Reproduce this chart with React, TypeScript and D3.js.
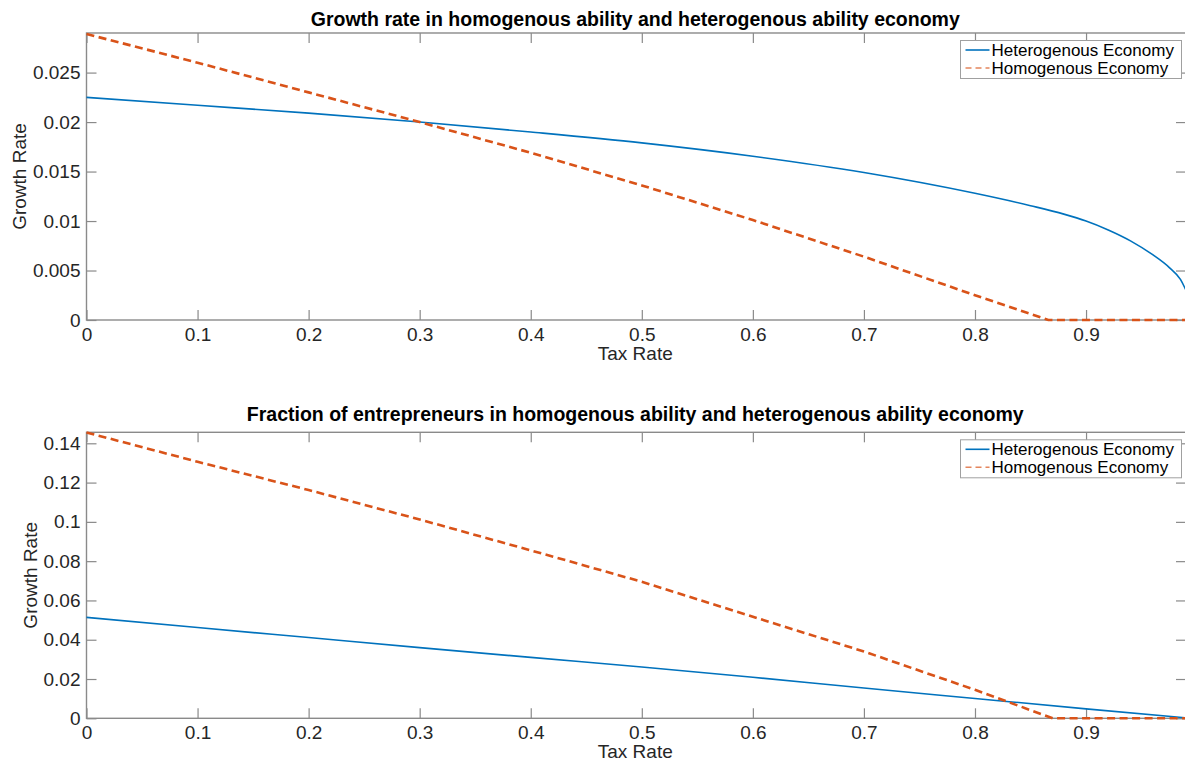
import React, { useRef, useEffect } from 'react';
import * as d3 from 'd3';

// x axis ticks shared by both panels
const taxTicks = [0, 0.1, 0.2, 0.3, 0.4, 0.5, 0.6, 0.7, 0.8, 0.9];

// panel 1: growth rate
const growthTicks = [0, 0.005, 0.01, 0.015, 0.02, 0.025];
const growthHetTax = [0, 0.1, 0.2, 0.3, 0.4, 0.5, 0.6, 0.7, 0.8, 0.85, 0.88, 0.9, 0.92, 0.94, 0.96, 0.975, 0.985, 0.99];
const growthHet = [0.0225, 0.0217, 0.0209, 0.02, 0.019, 0.0179, 0.01655, 0.0149, 0.0128, 0.01155, 0.0107, 0.01, 0.0091, 0.008, 0.0066, 0.0053, 0.0041, 0.003];
const growthHomTax = [0, 0.1, 0.2, 0.3, 0.4, 0.5, 0.6, 0.7, 0.8, 0.866, 0.9, 0.99];
const growthHom = [0.0289, 0.026, 0.023, 0.02, 0.0169, 0.0136, 0.0101, 0.0064, 0.0025, 0, 0, 0];

// panel 2: fraction of entrepreneurs
const fractionTicks = [0, 0.02, 0.04, 0.06, 0.08, 0.1, 0.12, 0.14];
const fracHetTax = [0, 0.1, 0.2, 0.3, 0.4, 0.5, 0.6, 0.7, 0.8, 0.9, 0.99];
const fracHet = [0.0514, 0.0462, 0.0411, 0.036, 0.031, 0.0261, 0.0209, 0.0154, 0.0101, 0.0048, 0.0002];
const fracHomTax = [0, 0.1, 0.2, 0.3, 0.4, 0.5, 0.6, 0.7, 0.8, 0.87, 0.9, 0.99];
const fracHom = [0.1455, 0.1306, 0.1162, 0.1012, 0.0855, 0.0695, 0.0517, 0.034, 0.0145, 0, 0, 0];

const legendLabels = ['Heterogenous Economy', 'Homogenous Economy'];

const BLUE = '#0072BD';
const ORANGE = '#D95319';
const FONT = '"Liberation Sans", Arial, Helvetica, sans-serif';

interface Panel {
  title: string;
  titleY: number;
  top: number;
  bottom: number;
  yMax: number;
  yTicks: number[];
  yLabelX: number;
  hetX: number[];
  het: number[];
  homX: number[];
  hom: number[];
}

const panels: Panel[] = [
  {
    title: 'Growth rate in homogenous ability and heterogenous ability economy',
    titleY: 26, top: 33, bottom: 320, yMax: 0.029, yTicks: growthTicks, yLabelX: 26,
    hetX: growthHetTax, het: growthHet, homX: growthHomTax, hom: growthHom,
  },
  {
    title: 'Fraction of entrepreneurs in homogenous ability and heterogenous ability economy',
    titleY: 421, top: 432.3, bottom: 718.3, yMax: 0.1456, yTicks: fractionTicks, yLabelX: 37,
    hetX: fracHetTax, het: fracHet, homX: fracHomTax, hom: fracHom,
  },
];

const App: React.FC = () => {
  const svgRef = useRef<SVGSVGElement>(null);

  useEffect(() => {
    const svg = d3.select(svgRef.current);
    svg.selectAll('*').remove();

    const left = 86.5;
    const right = 1186;

    panels.forEach(p => {
      const x = d3.scaleLinear().domain([0, 0.99]).range([left, right]);
      const y = d3.scaleLinear().domain([0, p.yMax]).range([p.bottom, p.top]);
      const g = svg.append('g');

      // axes with inward ticks on all four sides
      const styleAxis = (sel: any) => {
        sel.select('.domain').remove();
        sel.selectAll('line').attr('stroke', '#8a8a8a').attr('stroke-width', 1.2);
        sel.selectAll('text')
          .style('font-family', FONT)
          .style('font-size', '19px')
          .attr('fill', '#262626');
      };

      g.append('g')
        .attr('transform', `translate(0,${p.bottom})`)
        .call(d3.axisBottom(x).tickValues(taxTicks).tickSize(-10).tickPadding(7.5).tickFormat(d => String(d)))
        .call(styleAxis);

      g.append('g')
        .attr('transform', `translate(0,${p.top})`)
        .call(d3.axisTop(x).tickValues(taxTicks).tickSize(-10).tickFormat(() => ''))
        .call(styleAxis);

      g.append('g')
        .attr('transform', `translate(${left},0)`)
        .call(d3.axisLeft(y).tickValues(p.yTicks).tickSize(-10).tickPadding(6).tickFormat(d => String(d)))
        .call(styleAxis);

      g.append('g')
        .attr('transform', `translate(${right},0)`)
        .call(d3.axisRight(y).tickValues(p.yTicks).tickSize(-10).tickFormat(() => ''))
        .call(styleAxis);

      // frame
      g.append('rect')
        .attr('x', left)
        .attr('y', p.top)
        .attr('width', right - left)
        .attr('height', p.bottom - p.top)
        .attr('fill', 'none')
        .attr('stroke', '#8a8a8a')
        .attr('stroke-width', 1.4);

      // lines
      const hetLine = d3.line<number>()
        .x((_, i) => x(p.hetX[i]))
        .y(d => y(d))
        .curve(d3.curveMonotoneX);

      const homLine = d3.line<number>()
        .x((_, i) => x(p.homX[i]))
        .y(d => y(d));

      g.append('path')
        .datum(p.het)
        .attr('fill', 'none')
        .attr('stroke', BLUE)
        .attr('stroke-width', 1.6)
        .attr('d', hetLine);

      g.append('path')
        .datum(p.hom)
        .attr('fill', 'none')
        .attr('stroke', ORANGE)
        .attr('stroke-width', 2.6)
        .attr('stroke-dasharray', '8,4.5')
        .attr('d', homLine);

      // title and axis labels
      g.append('text')
        .attr('x', (86.5 + 1184) / 2)
        .attr('y', p.titleY)
        .attr('text-anchor', 'middle')
        .style('font-family', FONT)
        .style('font-size', '19.5px')
        .style('font-weight', 'bold')
        .attr('fill', '#000')
        .text(p.title);

      g.append('text')
        .attr('x', (86.5 + 1184) / 2)
        .attr('y', p.bottom + 40)
        .attr('text-anchor', 'middle')
        .style('font-family', FONT)
        .style('font-size', '19px')
        .attr('fill', '#262626')
        .text('Tax Rate');

      g.append('text')
        .attr('transform', `translate(${p.yLabelX},${(p.top + p.bottom) / 2}) rotate(-90)`)
        .attr('text-anchor', 'middle')
        .style('font-family', FONT)
        .style('font-size', '19px')
        .attr('fill', '#262626')
        .text('Growth Rate');

      // legend
      const legend = g.append('g').attr('transform', `translate(960.5,${p.top + 7.5})`);
      legend.append('rect')
        .attr('width', 221)
        .attr('height', 38)
        .attr('fill', '#fff')
        .attr('stroke', '#a0a0a0')
        .attr('stroke-width', 1);

      legendLabels.forEach((label, i) => {
        const ly = 9.5 + i * 18;
        legend.append('line')
          .attr('x1', 5)
          .attr('x2', 29)
          .attr('y1', ly)
          .attr('y2', ly)
          .attr('stroke', i === 0 ? BLUE : ORANGE)
          .attr('stroke-width', i === 0 ? 1.6 : 1.4)
          .attr('stroke-dasharray', i === 0 ? null : '6,4')
          .attr('opacity', i === 0 ? 1 : 0.7);
        legend.append('text')
          .attr('x', 31)
          .attr('y', ly)
          .attr('dy', '0.35em')
          .style('font-family', FONT)
          .style('font-size', '17px')
          .attr('fill', '#000')
          .text(label);
      });
    });
  }, []);

  return (
    <svg
      ref={svgRef}
      width={1185}
      height={767}
      style={{ position: 'absolute', left: 0, top: 0, background: '#fff' }}
    />
  );
};

export default App;
